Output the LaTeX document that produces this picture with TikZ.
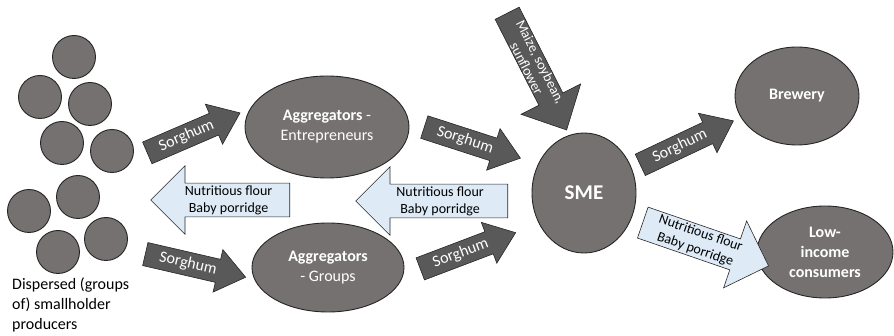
\documentclass[tikz,border=0pt]{standalone}
\usepackage{fontspec}
\setmainfont{Carlito}
\usetikzlibrary{shapes.geometric, shapes.arrows}
\definecolor{nodegray}{HTML}{767171}
\definecolor{arrowgray}{HTML}{595959}
\definecolor{flourblue}{HTML}{DEEBF7}
\definecolor{edgegray}{HTML}{262626}

\begin{document}
\begin{tikzpicture}[
      x=1pt, y=-1pt,
      farm/.style={circle, draw=edgegray, fill=nodegray, line width=0.9pt, minimum size=43pt},
      actor/.style={ellipse, draw=edgegray, fill=nodegray, line width=0.9pt, inner sep=0pt,
        text=white, align=center, font=\fontsize{16}{20}\selectfont},
      flow/.style={single arrow, draw=edgegray, line width=0.6pt, inner xsep=0pt, anchor=tail},
      sorghum/.style={flow, fill=arrowgray, text=white, font=\fontsize{16}{18}\selectfont,
        single arrow head extend=10pt, single arrow tip angle=75,
        inner ysep=3.5pt, text height=12pt, text depth=4pt},
      flour/.style={flow, fill=flourblue, text=black, align=center, font=\fontsize{14}{17}\selectfont,
        single arrow head extend=17.5pt, single arrow tip angle=90, inner ysep=2pt}
    ]
    \useasboundingbox (0,0) rectangle (894,336);

    % Producers
    \foreach \x/\y [count=\i] in {74/57, 40/97, 90/104, 62/143, 112/151,
                                   29/211, 78/197, 58/252, 106/239}
      \node[farm] (c\i) at (\x,\y) {};
    \node[anchor=north west, inner sep=0pt, align=left, font=\fontsize{16}{20}\selectfont]
      (disp) at (12,278) {Dispersed (groups\\of) smallholder\\producers};

    % Actors
    \node[actor, minimum width=164pt, minimum height=102pt] (aggent) at (327,127)
      {\textbf{Aggregators} -\\Entrepreneurs};
    \node[actor, minimum width=152pt, minimum height=89pt] (agggrp) at (328,267.5)
      {\textbf{Aggregators}\\- Groups};
    \node[actor, minimum width=104pt, minimum height=120pt, font=\fontsize{21}{24}\selectfont\bfseries]
      (sme) at (584,193) {SME};
    \node[actor, minimum width=124pt, minimum height=98pt, font=\fontsize{16}{20}\selectfont\bfseries]
      (brewery) at (797,96) {Brewery};
    \node[actor, minimum width=136pt, minimum height=92pt, font=\fontsize{16}{20}\selectfont\bfseries]
      (consumers) at (825,252) {Low-\\income\\consumers};

    % Flows (placed by their tails)
    \node[sorghum, minimum height=101pt, rotate=23.3] (sgA) at (147,153) {Sorghum};
    \node[sorghum, minimum height=103pt, rotate=-13] (sgB) at (145,254) {Sorghum};
    \node[flour, minimum height=139pt, shape border rotate=180] (nfA) at (290,200)
      {Nutritious flour\\Baby porridge};
    \node[flour, minimum height=152pt, shape border rotate=180] (nfB) at (508,201)
      {Nutritious flour\\Baby porridge};
    \node[sorghum, minimum height=101pt, rotate=-17.9] (sgC) at (424,127) {Sorghum};
    \node[sorghum, minimum height=102pt, rotate=20.8] (sgD) at (420,269) {Sorghum};
    \node[flow, fill=arrowgray, text=white, align=center, font=\fontsize{14}{15.5}\selectfont,
      single arrow head extend=20pt, single arrow tip angle=88, inner ysep=0.5pt,
      minimum height=131pt, rotate=-63] (maize) at (507,13) {Maize, soybean,\\sunflower};
    \node[sorghum, minimum height=103pt, rotate=25.3] (sgE) at (640,165) {Sorghum};
    \node[flour, minimum height=133pt, single arrow head extend=19pt, inner ysep=1.5pt,
      rotate=-19] (nfC) at (642.5,222.5) {Nutritious flour\\Baby porridge};

\end{tikzpicture}
\end{document}
